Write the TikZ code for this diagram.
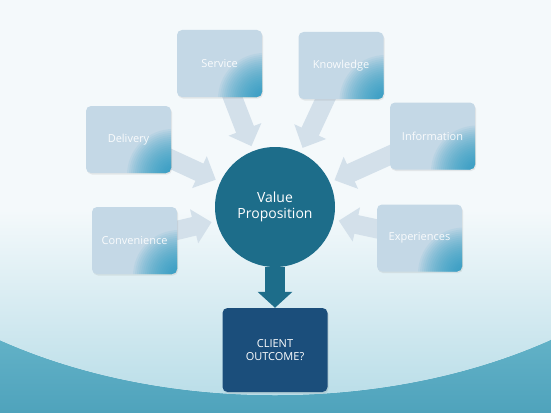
\documentclass[tikz,border=0pt]{standalone}
\usepackage{fontspec}
\setmainfont{Open Sans}
\usetikzlibrary{arrows.meta,shadows,calc}
\definecolor{boxblue}{HTML}{C4D8E6}
\definecolor{cornerblue}{HTML}{1A95C1}
\definecolor{arrowgray}{HTML}{D3E0EA}
\definecolor{vpteal}{HTML}{1D6D8A}
\definecolor{navy}{HTML}{1B4E7B}
\definecolor{bgtop}{HTML}{F4F9FB}
\definecolor{ellbot}{HTML}{B6DCE7}
\definecolor{tealtop}{HTML}{6CB9CD}
\definecolor{tealbot}{HTML}{4FA3BC}
\pgfdeclarelayer{bg}
\pgfdeclarelayer{arrowlayer}
\pgfsetlayers{bg,arrowlayer,main}
\begin{document}
\begin{tikzpicture}[x=1pt,y=-1pt,
  srcbox/.style={rectangle, rounded corners=5pt, fill=boxblue,
    minimum width=85pt, minimum height=67pt, inner sep=0pt,
    text=white, text opacity=0.9, font=\fontsize{11}{13}\selectfont,
    drop shadow={opacity=0.15,shadow xshift=1pt,shadow yshift=-1.5pt},
    path picture={\foreach \r in {46,44,...,4}{
      \fill[cornerblue, opacity=0.065]
      ($(path picture bounding box.south east)+(2,2)$) circle (\r pt);}}},
  feedarrow/.style={arrowgray, line width=19pt, shorten >=5pt,
    -{Triangle[length=18pt,width=34pt]}},
  downarrow/.style={vpteal, line width=20pt,
    -{Triangle[length=16pt,width=34pt]}},
  vpnode/.style={circle, fill=vpteal, minimum size=120pt, inner sep=0pt,
    text=white, align=center, font=\fontsize{14}{16}\selectfont},
  outbox/.style={rectangle, rounded corners=5pt, fill=navy,
    minimum width=105pt, minimum height=84pt, inner sep=0pt,
    text=white, align=center, font=\fontsize{11}{13}\selectfont,
    drop shadow={opacity=0.2,shadow xshift=1pt,shadow yshift=-1.5pt}}
]
\useasboundingbox (0,0) rectangle (551,412);
\begin{pgfonlayer}{bg}
  \begin{scope}
    \clip (0,0) rectangle (551,412);
    \shade[top color=tealtop, bottom color=tealbot] (0,300) rectangle (551,412);
    \begin{scope}
      \clip (275,100) ellipse [x radius=473, y radius=295];
      \fill[bgtop] (0,0) rectangle (551,412);
      \shade[top color=bgtop, bottom color=ellbot] (0,210) rectangle (551,410);
    \end{scope}
  \end{scope}
\end{pgfonlayer}

\node[vpnode] (vp) at (275,207) {Value\\Proposition};
\node[srcbox] (service) at (219.5,63.5) {Service};
\node[srcbox] (knowledge) at (341,65.5) {Knowledge};
\node[srcbox] (delivery) at (128.5,139.5) {Delivery};
\node[srcbox] (information) at (432.5,136) {Information};
\node[srcbox] (convenience) at (134.5,240.5) {Convenience};
\node[srcbox] (experiences) at (419.5,238) {Experiences};
\node[outbox] (client) at (275,350) {CLIENT\\OUTCOME?};

\begin{pgfonlayer}{arrowlayer}
  \draw[feedarrow] (service.center) -- (vp);
  \draw[feedarrow] (knowledge.center) -- (vp);
  \draw[feedarrow] (delivery.center) -- (vp);
  \draw[feedarrow] (information.center) -- (vp);
  \draw[feedarrow] (convenience.center) -- (vp);
  \draw[feedarrow] (experiences.center) -- (vp);
\end{pgfonlayer}
\draw[downarrow] (vp) -- (client);
\end{tikzpicture}
\end{document}
